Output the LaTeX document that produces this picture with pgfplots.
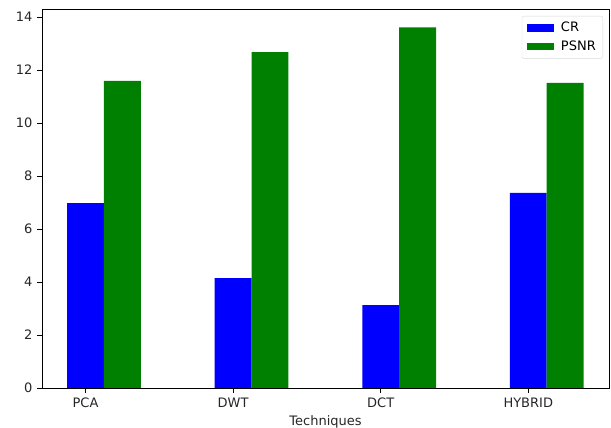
\documentclass[border=0pt]{standalone}
\usepackage{pgfplots}
\pgfplotsset{compat=1.18}
\usepackage{fontspec}
\setmainfont{DejaVu Sans}
\usetikzlibrary{calc}
\definecolor{mblue}{RGB}{0,0,255}
\definecolor{mgreen}{RGB}{0,128,0}
\begin{document}
\fontsize{13}{15}\selectfont
\begin{tikzpicture}
\begin{axis}[
  scale only axis,
  width=567pt, height=379pt,
  xmin=-0.295, xmax=3.547,
  ymin=0, ymax=14.31,
  xtick={0,1,2,3},
  xticklabels={PCA,DWT,DCT,HYBRID},
  ytick={0,2,4,6,8,10,12,14},
  /pgf/number format/assume math mode=true,
  tick label style={font=\fontsize{13}{15}\selectfont, text=black!85},
  label style={font=\fontsize{13}{15}\selectfont, text=black!85},
  xlabel={Techniques},
  xlabel style={yshift=1pt},
  tick align=outside,
  tick pos=left,
  major tick length=5pt,
  every tick/.style={black, line width=0.8pt},
  axis line style={black, line width=0.8pt},
  ybar, bar shift=0pt, bar width=0.25,
  legend style={at={(rel axis cs:1,1)}, anchor=north east,
    xshift=-6pt, yshift=-7pt,
    draw=black!15, rounded corners=2pt, font=\fontsize{13}{15}\selectfont,
    inner xsep=5pt, inner ysep=4pt, row sep=3pt,
    /tikz/every even column/.append style={column sep=0pt}},
  legend image code/.code={\fill[#1, sharp corners] (0pt,-3.7pt) rectangle (27pt,3.7pt);},
  legend cell align=left,
]
\coordinate (bl) at (rel axis cs:0,0);
\coordinate (tr) at (rel axis cs:1,1);
\addplot[fill=mblue, draw=none] coordinates {(0,6.98) (1,4.15) (2,3.13) (3,7.37)};
\addlegendentry{\hspace{5pt}CR}
\addplot[fill=mgreen, draw=none] coordinates {(0.25,11.6) (1.25,12.68) (2.25,13.62) (3.25,11.52)};
\addlegendentry{\hspace{5pt}PSNR}
\end{axis}
\pgfresetboundingbox
\path ($(bl)+(-42pt,-40pt)$) rectangle ($(tr)+(2pt,9pt)$);
\end{tikzpicture}
\end{document}
